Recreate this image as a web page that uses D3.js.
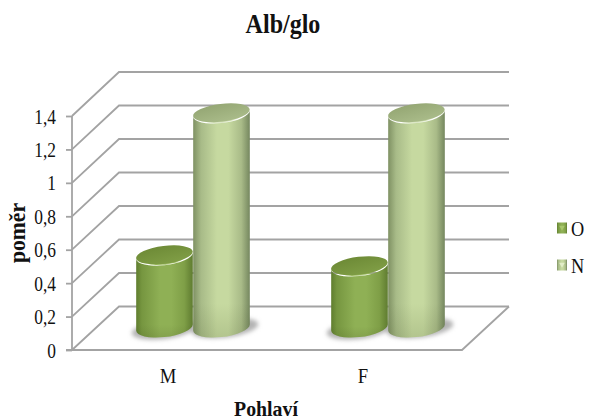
<!DOCTYPE html>
<html>
<head>
<meta charset="utf-8">
<script src="https://cdn.jsdelivr.net/npm/d3@7"></script>
<style>
html,body{margin:0;padding:0;background:#fff}
svg{display:block}
text{font-family:"Liberation Serif",serif;fill:#111}
</style>
</head>
<body>
<svg id="chart" width="592" height="420"></svg>
<script>
const categories = ["M", "F"];
const seriesNames = ["O", "N"];
const valuesO = [0.43, 0.365];
const valuesN = [1.28, 1.28];
const tickValues = [0, 0.2, 0.4, 0.6, 0.8, 1, 1.2, 1.4];

const svg = d3.select("#chart");
const defs = svg.append("defs");

// Oblique box: front edge, back edge, and the plane the columns stand on
const yFront = d3.scaleLinear().domain([0, 1.4]).range([350, 116]);
const yBack = d3.scaleLinear().domain([0, 1.4]).range([306.5, 72]);
const yMid = d3.scaleLinear().domain([0, 1.4]).range([327.5, 93.5]);
const frontX = d3.scaleBand().domain(categories).range([70.5, 460.5]);
const midX = d3.scaleBand().domain(categories).range([95.5, 485.5]);
const seriesX = d3.scaleBand().domain(seriesNames).range([-57, 57]);
const backLeft = 119, backRight = 509, frontLeft = 72, frontRight = 462;

// Serif labels are set tall and narrow
function condense(sel, k) {
  sel.each(function () {
    const natural = this.getComputedTextLength();
    d3.select(this).attr("textLength", natural * k).attr("lengthAdjust", "spacingAndGlyphs");
  });
  return sel;
}

function bodyGradient(id, stops) {
  const g = defs.append("linearGradient").attr("id", id);
  stops.forEach(s => g.append("stop").attr("offset", s[0]).attr("stop-color", s[1]));
}
bodyGradient("bodyO", [[0, "#5f7d2e"], [0.1, "#769640"], [0.42, "#8fb055"], [0.62, "#8fb055"], [0.85, "#7f9f47"], [1, "#5f7c30"]]);
bodyGradient("bodyN", [[0, "#7f9163"], [0.14, "#a8bb88"], [0.42, "#c6d9a0"], [0.62, "#c6d9a0"], [0.85, "#a9bb88"], [1, "#75875f"]]);

function topGradient(id, from, to) {
  const g = defs.append("linearGradient").attr("id", id).attr("x1", 0.2).attr("x2", 0.6).attr("y1", 0).attr("y2", 1);
  g.append("stop").attr("offset", 0).attr("stop-color", from);
  g.append("stop").attr("offset", 1).attr("stop-color", to);
}
topGradient("topO", "#6d8a36", "#7f9d45");
topGradient("topN", "#94a673", "#a9bb89");

const fade = defs.append("linearGradient").attr("id", "baseShade").attr("x1", 0).attr("x2", 0).attr("y1", 0).attr("y2", 1);
fade.append("stop").attr("offset", 0.85).attr("stop-color", "#3c4a1c").attr("stop-opacity", 0);
fade.append("stop").attr("offset", 1).attr("stop-color", "#3c4a1c").attr("stop-opacity", 0.14);

defs.append("filter").attr("id", "soft").attr("x", "-30%").attr("y", "-60%").attr("width", "160%").attr("height", "220%")
  .append("feGaussianBlur").attr("stdDeviation", 2.2);
defs.append("filter").attr("id", "rimSoft").attr("x", "-10%").attr("y", "-20%").attr("width", "120%").attr("height", "140%")
  .append("feGaussianBlur").attr("stdDeviation", 0.7);

// Box gridlines
const grid = svg.append("g").attr("fill", "none").attr("stroke", "#a3a3a3").attr("stroke-width", 1.8);
tickValues.forEach(v => {
  grid.append("path").attr("d", d3.line()([
    [frontLeft, yFront(v)], [backLeft, yBack(v)], [backRight, yBack(v)]
  ]));
});
grid.append("path").attr("d", d3.line()([
  [backRight, yBack(0)], [frontRight, yFront(0)], [frontLeft - 6, yFront(0)]
]));

// Value axis
const axis = svg.append("g").attr("transform", `translate(${frontLeft},0)`)
  .call(d3.axisLeft(yFront).tickValues(tickValues).tickSize(6).tickPadding(10)
    .tickFormat(d => String(d).replace(".", ",")));
axis.selectAll("path,line").attr("stroke", "#a3a3a3").attr("stroke-width", 1.8);
axis.select(".domain").attr("d", `M0,${yFront(1.4)}V${yFront(0)}`);
axis.selectAll("text").attr("font-size", 20).attr("dy", "0.35em")
  .style("font-family", '"Liberation Serif",serif').attr("fill", "#111")
  .call(condense, 0.87);

// Tilted-ellipse cylinder outline
const RY = 9.5, PHI = -7 * Math.PI / 180;
function ellipsePoint(cx, cy, rx, t) {
  return [
    cx + rx * Math.cos(t) * Math.cos(PHI) - RY * Math.sin(t) * Math.sin(PHI),
    cy + rx * Math.cos(t) * Math.sin(PHI) + RY * Math.sin(t) * Math.cos(PHI)
  ];
}
function cylinderPath(cx, yTop, yBase, rx) {
  const t = Math.atan(-(RY / rx) * Math.tan(PHI));
  const deg = PHI * 180 / Math.PI;
  const a = ellipsePoint(cx, yTop, rx, t + Math.PI);
  const b = ellipsePoint(cx, yBase, rx, t + Math.PI);
  const c = ellipsePoint(cx, yBase, rx, t);
  const d = ellipsePoint(cx, yTop, rx, t);
  return `M${a}L${b}A${rx},${RY},${deg},0,0,${c}L${d}A${rx},${RY},${deg},0,1,${a}Z`;
}

const rx = seriesX.bandwidth() / 2;
const tiltDeg = PHI * 180 / Math.PI;
const rows = categories.map((c, i) => ({ c, O: valuesO[i], N: valuesN[i] }));

// Soft floor shadows go down first so both columns sit over them
const shadows = svg.append("g").attr("filter", "url(#soft)").attr("fill", "#b4b4b4");
rows.forEach(r => {
  const cx = midX(r.c) + midX.bandwidth() / 2;
  shadows.append("ellipse").attr("cx", cx - 29).attr("cy", yMid(0) + 2)
    .attr("rx", rx + 4).attr("ry", RY).attr("transform", `rotate(${tiltDeg} ${cx - 29} ${yMid(0) + 2})`);
  shadows.append("ellipse").attr("cx", cx + 32).attr("cy", yMid(0) + 0.5)
    .attr("rx", rx + 5).attr("ry", RY).attr("transform", `rotate(${tiltDeg} ${cx + 32} ${yMid(0) + 0.5})`);
});

const palette = {
  O: { body: "url(#bodyO)", top: "url(#topO)", rim: "#9aba5c" },
  N: { body: "url(#bodyN)", top: "url(#topN)", rim: "#cfdeb0" }
};

rows.forEach(r => {
  seriesNames.forEach(s => {
    const cx = midX(r.c) + midX.bandwidth() / 2 + seriesX(s) + rx;
    const yT = yMid(r[s]), yB = yMid(0);
    const g = svg.append("g");
    const d = cylinderPath(cx, yT, yB, rx);
    g.append("path").attr("d", d).attr("fill", palette[s].body);
    g.append("path").attr("d", d).attr("fill", "url(#baseShade)");
    g.append("ellipse").attr("cx", cx).attr("cy", yT + 0.4).attr("rx", rx - 6).attr("ry", RY - 0.8)
      .attr("fill", palette[s].rim).attr("filter", "url(#rimSoft)")
      .attr("transform", `rotate(${tiltDeg} ${cx} ${yT})`);
    g.append("ellipse").attr("cx", cx).attr("cy", yT - 0.8).attr("rx", rx).attr("ry", RY - 0.6)
      .attr("fill", palette[s].top).attr("transform", `rotate(${tiltDeg} ${cx} ${yT})`);
  });
});

// Category labels
svg.append("g").selectAll("text").data(categories).join("text")
  .attr("x", d => frontX(d) + frontX.bandwidth() / 2)
  .attr("y", 383).attr("text-anchor", "middle").attr("font-size", 22)
  .text(d => d)
  .call(condense, 0.85);

// Titles
svg.append("text").attr("x", 283).attr("y", 33).attr("text-anchor", "middle")
  .attr("font-size", 27).attr("font-weight", "bold").text("Alb/glo").call(condense, 0.89);
svg.append("text").attr("x", 266).attr("y", 416).attr("text-anchor", "middle")
  .attr("font-size", 22).attr("font-weight", "bold").text("Pohlaví").call(condense, 0.9);
svg.append("text").attr("transform", "translate(25,233) rotate(-90)").attr("text-anchor", "middle")
  .attr("font-size", 23).attr("font-weight", "bold").text("poměr").call(condense, 0.94);

// Legend
const legendY = d3.scalePoint().domain(seriesNames).range([228, 265]);
const legendFill = { O: "url(#bodyO)", N: "url(#bodyN)" };
const legendGlow = { O: "#a9c76d", N: "#e2edc8" };
const legend = svg.append("g").selectAll("g").data(seriesNames).join("g")
  .attr("transform", d => `translate(557,${legendY(d)})`);
legend.append("rect").attr("x", 0).attr("y", -5.5).attr("width", 10).attr("height", 11)
  .attr("fill", d => legendFill[d]);
legend.append("path").attr("d", d3.symbol(d3.symbolTriangle, 14))
  .attr("transform", "translate(5,-0.5) rotate(180)").attr("fill", d => legendGlow[d]);
legend.append("text").attr("x", 14).attr("y", 8).attr("font-size", 21).text(d => d)
  .call(condense, 0.87);
</script>
</body>
</html>
